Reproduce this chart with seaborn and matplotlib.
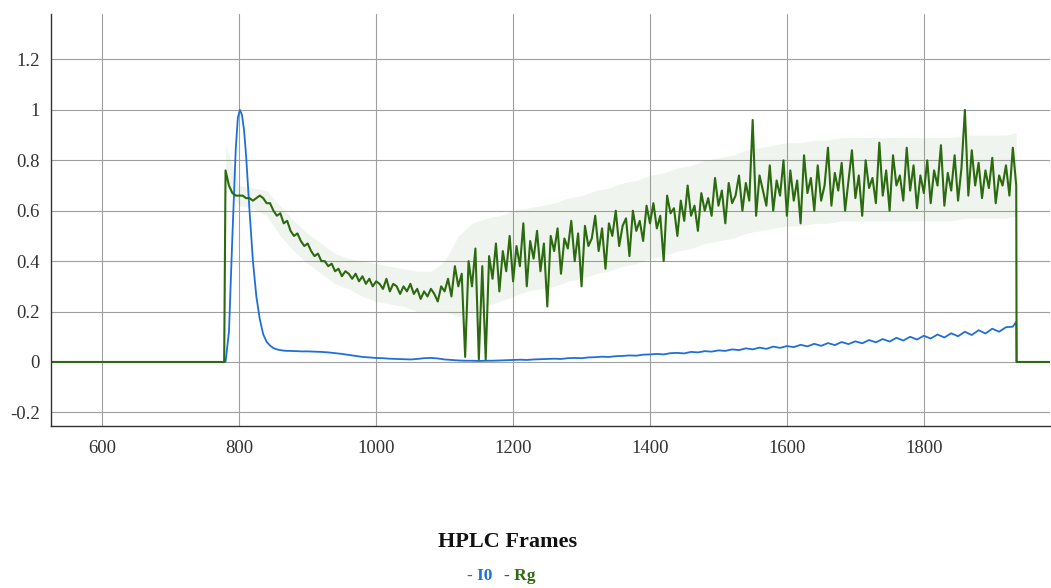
import numpy as np
import pandas as pd
import matplotlib
matplotlib.use("Agg")
import matplotlib.pyplot as plt
import seaborn as sns

# Rg (green) sampled every 5 frames, 780..1935
rg_frames = np.arange(780, 1936, 5)
rg_values = [
    0.76, 0.70, 0.67, 0.66, 0.66,
    0.66, 0.65, 0.65, 0.64, 0.65, 0.66, 0.65, 0.63,
    0.63, 0.60, 0.58, 0.59, 0.55, 0.56, 0.52, 0.50,
    0.51, 0.48, 0.46, 0.47, 0.44, 0.42, 0.43, 0.40,
    0.40, 0.38, 0.39, 0.36, 0.37, 0.34, 0.36, 0.35,
    0.33, 0.35, 0.32, 0.34, 0.31, 0.33, 0.30, 0.32,
    0.31, 0.29, 0.33, 0.28, 0.31, 0.30, 0.27, 0.30,
    0.28, 0.31, 0.27, 0.29, 0.25, 0.28, 0.26, 0.29,
    0.27, 0.24, 0.30, 0.28, 0.33, 0.26, 0.38, 0.30,
    0.35, 0.02, 0.40, 0.30, 0.45, 0.01, 0.38, 0.01,
    0.42, 0.33, 0.47, 0.28, 0.44, 0.36, 0.50, 0.32,
    0.46, 0.38, 0.55, 0.30, 0.48, 0.41, 0.52, 0.36,
    0.47, 0.22, 0.50, 0.44, 0.53, 0.35, 0.49, 0.45,
    0.56, 0.40, 0.51, 0.30, 0.54, 0.46, 0.49, 0.58,
    0.44, 0.53, 0.37, 0.55, 0.50, 0.60, 0.46, 0.54,
    0.57, 0.42, 0.60, 0.52, 0.56, 0.48, 0.62, 0.55,
    0.63, 0.53, 0.58, 0.40, 0.66, 0.59, 0.61, 0.50,
    0.64, 0.56, 0.70, 0.58, 0.62, 0.52, 0.67, 0.60,
    0.65, 0.58, 0.73, 0.62, 0.68, 0.55, 0.71, 0.63,
    0.66, 0.74, 0.60, 0.71, 0.64, 0.96, 0.58, 0.74,
    0.68, 0.62, 0.78, 0.60, 0.72, 0.66, 0.80, 0.58,
    0.76, 0.64, 0.72, 0.55, 0.82, 0.67, 0.73, 0.60,
    0.78, 0.64, 0.70, 0.85, 0.62, 0.75, 0.68, 0.79,
    0.60, 0.72, 0.84, 0.65, 0.74, 0.58, 0.80, 0.69,
    0.73, 0.63, 0.87, 0.66, 0.76, 0.60, 0.82, 0.70,
    0.74, 0.64, 0.85, 0.68, 0.78, 0.61, 0.74, 0.67,
    0.80, 0.63, 0.76, 0.70, 0.86, 0.62, 0.75, 0.68,
    0.82, 0.64, 0.77, 1.00, 0.66, 0.84, 0.70, 0.79,
    0.65, 0.76, 0.69, 0.81, 0.63, 0.74, 0.70, 0.78,
    0.66, 0.85, 0.70,
]

# Rg uncertainty band, every 20 frames
band_frames = list(range(780, 1921, 20)) + [1935]
band_lo = [
    0.70, 0.62, 0.61, 0.58, 0.50, 0.44, 0.39, 0.35, 0.31, 0.29,
    0.26, 0.24, 0.23, 0.22, 0.20, 0.20, 0.20, 0.18, 0.20, 0.22,
    0.24, 0.26, 0.28, 0.29, 0.30, 0.32, 0.33, 0.35, 0.36, 0.38,
    0.39, 0.41, 0.42, 0.44, 0.45, 0.47, 0.48, 0.49, 0.51, 0.52,
    0.53, 0.54, 0.54, 0.55, 0.55, 0.56, 0.56, 0.56, 0.56, 0.56,
    0.56, 0.56, 0.56, 0.56, 0.57, 0.57, 0.57, 0.57, 0.58,
]
band_hi = [
    0.86, 0.70, 0.69, 0.68, 0.62, 0.56, 0.51, 0.47, 0.43, 0.41,
    0.40, 0.39, 0.38, 0.37, 0.36, 0.36, 0.40, 0.50, 0.55, 0.57,
    0.58, 0.60, 0.61, 0.62, 0.63, 0.65, 0.66, 0.68, 0.69, 0.71,
    0.72, 0.74, 0.75, 0.77, 0.78, 0.80, 0.81, 0.82, 0.84, 0.85,
    0.86, 0.87, 0.87, 0.88, 0.88, 0.89, 0.89, 0.89, 0.89, 0.89,
    0.89, 0.89, 0.89, 0.89, 0.90, 0.90, 0.90, 0.90, 0.91,
]

# I0 (blue): finer over the peak, every 10 frames afterwards
i0_frames = ([780, 785, 790, 795, 798, 801, 804, 807, 810, 815, 820, 825, 830,
              835, 840, 845, 850, 855, 860, 865, 870, 875, 880, 885, 890, 895, 900]
             + list(range(910, 1931, 10)) + [1935])
i0_values = [
    0.0, 0.12, 0.50, 0.85, 0.97, 1.0, 0.98, 0.92, 0.82, 0.60, 0.40, 0.26, 0.17,
    0.11, 0.08, 0.065, 0.055, 0.05, 0.047, 0.045, 0.044, 0.044,
    0.043, 0.043, 0.042, 0.042, 0.042,
    0.041, 0.04, 0.038, 0.035, 0.032, 0.028, 0.024, 0.02, 0.018, 0.016,
    0.015, 0.013, 0.012, 0.011, 0.01, 0.012, 0.015, 0.016, 0.014, 0.01,
    0.008, 0.006, 0.005, 0.005, 0.004, 0.005, 0.005, 0.006, 0.007, 0.008,
    0.009, 0.008, 0.01, 0.011, 0.012, 0.013, 0.012, 0.015, 0.016, 0.015,
    0.018, 0.019, 0.021, 0.02, 0.023, 0.024, 0.026, 0.025, 0.029, 0.03,
    0.032, 0.03, 0.035, 0.036, 0.034, 0.04, 0.038, 0.043, 0.041, 0.046,
    0.044, 0.05, 0.047, 0.054, 0.05, 0.057, 0.052, 0.061, 0.056, 0.063,
    0.059, 0.068, 0.062, 0.072, 0.064, 0.075, 0.067, 0.079, 0.071, 0.082,
    0.074, 0.087, 0.078, 0.091, 0.081, 0.096, 0.085, 0.1, 0.089, 0.104,
    0.093, 0.109, 0.097, 0.114, 0.102, 0.12, 0.107, 0.126, 0.113, 0.132,
    0.12, 0.138, 0.14,
    0.16,
]

# flat zero segments before/after the run
x_left, x_right = 525, 1985
rg_df = pd.DataFrame({
    "frame": [x_left, 778] + list(rg_frames) + [1935.5, x_right],
    "value": [0, 0] + rg_values + [0, 0],
})
i0_df = pd.DataFrame({
    "frame": [x_left] + i0_frames + [1935.5, x_right],
    "value": [0] + i0_values + [0, 0],
})

blue = "#1f6fd8"
green = "#2b6a0f"

sns.set_style("white")
plt.rcParams["font.family"] = ["Liberation Serif", "DejaVu Serif"]

fig = plt.figure(figsize=(10.51, 5.88), dpi=100)
ax = fig.add_axes([0.0485, 0.2755, 0.951, 0.7005])

ax.fill_between(band_frames, band_lo, band_hi, color="#6a9a5a", alpha=0.10, linewidth=0)
sns.lineplot(data=i0_df, x="frame", y="value", color=blue, lw=1.3, sort=False,
             estimator=None, ax=ax)
sns.lineplot(data=rg_df, x="frame", y="value", color=green, lw=1.5, sort=False,
             estimator=None, ax=ax)

ax.set_xlim(x_left, x_right)
ax.set_ylim(-0.254, 1.38)
ax.set_xticks([600, 800, 1000, 1200, 1400, 1600, 1800])
ax.set_yticks([-0.2, 0, 0.2, 0.4, 0.6, 0.8, 1.0, 1.2])
ax.set_yticklabels(["-0.2", "0", "0.2", "0.4", "0.6", "0.8", "1", "1.2"])
ax.set_xlabel("")
ax.set_ylabel("")
ax.grid(True, color="#a0a0a0", lw=0.8)
ax.tick_params(length=0, labelsize=13.5, colors="#333333", pad=8)
ax.tick_params(axis="x", pad=10)
for s in ["top", "right"]:
    ax.spines[s].set_visible(False)
for s in ["left", "bottom"]:
    ax.spines[s].set_color("#333333")
    ax.spines[s].set_linewidth(1.0)

fig.text(0.483, 1 - 542 / 588, "HPLC Frames", ha="center", va="center",
         fontsize=16, fontweight="bold", color="#111111")
fig.text(467 / 1051, 1 - 576 / 588, "- I0", ha="left", va="center", fontsize=12.5,
         fontweight="bold", color=blue)
fig.text(504 / 1051, 1 - 576 / 588, "- Rg", ha="left", va="center", fontsize=12.5,
         fontweight="bold", color=green)

fig.savefig("out.png", dpi=100)
